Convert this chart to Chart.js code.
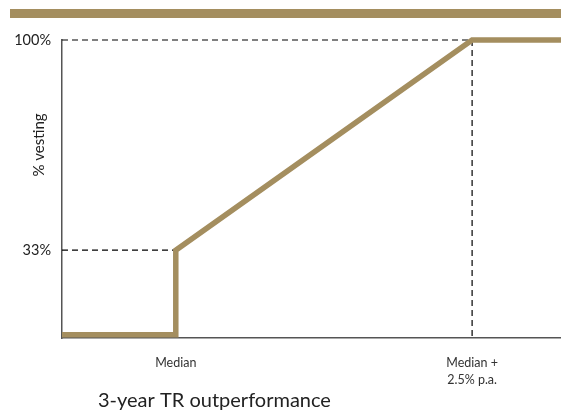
<!DOCTYPE html>
<html>
<head>
<meta charset="utf-8">
<script src="https://cdn.jsdelivr.net/npm/chart.js@4"></script>
<style>
  body { margin: 0; background: #fff; }
  #wrap { position: relative; width: 561px; height: 412px; }
  #bar { position: absolute; left: 10px; top: 9px; width: 551px; height: 9px; background: #a48e5f; }
</style>
</head>
<body>
<div id="wrap">
  <div id="bar"></div>
  <canvas id="graph"></canvas>
</div>
<script>
// outperformance vs median (% p.a.), vesting (%)
const xTickValues = [0, 2.5];
const xTickLabels = ['Median', ['Median +', '2.5% p.a.']];
const yTickValues = [33, 100];

const vestX = [-0.96, 0, 0, 2.5, 3.25];
const vestY = [6, 6, 33, 100, 100];

const guide33X = [-0.96, 0];
const guide33Y = [33, 33];
const guide100X = [-0.96, 2.5, 2.5];
const guide100Y = [100, 100, 5];

const xTitle = '3-year TR outperformance';
const yTitle = '% vesting';

const gold = '#a48e5f';
const fontFam = 'Lato, "Liberation Sans", sans-serif';

const pts = (xs, ys) => xs.map((x, i) => ({ x: x, y: ys[i] }));

const titles = {
    id: 'titles',
    afterDraw(chart) {
        const ctx = chart.ctx;
        ctx.save();
        ctx.fillStyle = '#222';
        ctx.font = '20px ' + fontFam;
        ctx.textAlign = 'left';
        ctx.textBaseline = 'alphabetic';
        ctx.fillText(xTitle, 98, 407);
        ctx.translate(39, 145);
        ctx.rotate(-Math.PI / 2);
        ctx.font = '15px ' + fontFam;
        ctx.textAlign = 'center';
        ctx.textBaseline = 'middle';
        ctx.fillText(yTitle, 0, 0);
        ctx.restore();
    }
};

const graph = document.getElementById('graph');
let linegraph = new Chart(graph, {
    type: 'scatter',
    data: {
        datasets: [{
            data: pts(guide33X, guide33Y),
            showLine: true,
            borderColor: '#000',
            borderWidth: 1.2,
            borderDash: [6, 4],
            pointRadius: 0,
            clip: false
        }, {
            data: pts(guide100X, guide100Y),
            showLine: true,
            borderColor: '#000',
            borderWidth: 1.2,
            borderDash: [6, 4],
            pointRadius: 0,
            clip: false
        }, {
            data: pts(vestX, vestY),
            showLine: true,
            borderColor: gold,
            borderWidth: 5.5,
            borderJoinStyle: 'miter',
            pointRadius: 0,
            clip: { left: 0, right: 0, top: 8, bottom: 0 },
            order: -1
        }]
    },
    options: {
        responsive: true,
        maintainAspectRatio: false,
        animation: false,
        layout: { padding: { top: 40, left: 0, right: 0, bottom: 0 } },
        plugins: { legend: { display: false }, tooltip: { enabled: false } },
        scales: {
            x: {
                type: 'linear',
                min: -0.96,
                max: 3.25,
                grid: { display: false, drawTicks: false },
                border: { color: '#555', width: 1.5 },
                afterBuildTicks: s => { s.ticks = xTickValues.map(v => ({ value: v })); },
                afterFit: s => { s.height = 74; },
                ticks: {
                    padding: 17,
                    maxRotation: 0,
                    autoSkip: false,
                    color: '#333',
                    font: { family: fontFam, size: 12.5, lineHeight: 1.35 },
                    callback: (v, i) => xTickLabels[i]
                }
            },
            y: {
                min: 5,
                max: 100,
                grid: { display: false, drawTicks: false },
                border: { color: '#555', width: 1.5 },
                afterBuildTicks: s => { s.ticks = yTickValues.map(v => ({ value: v })); },
                afterFit: s => { s.width = 62; },
                ticks: {
                    padding: 11,
                    color: '#222',
                    font: { family: fontFam, size: 14.5 },
                    callback: v => v + '%'
                }
            }
        }
    },
    plugins: [titles]
});
</script>
</body>
</html>
